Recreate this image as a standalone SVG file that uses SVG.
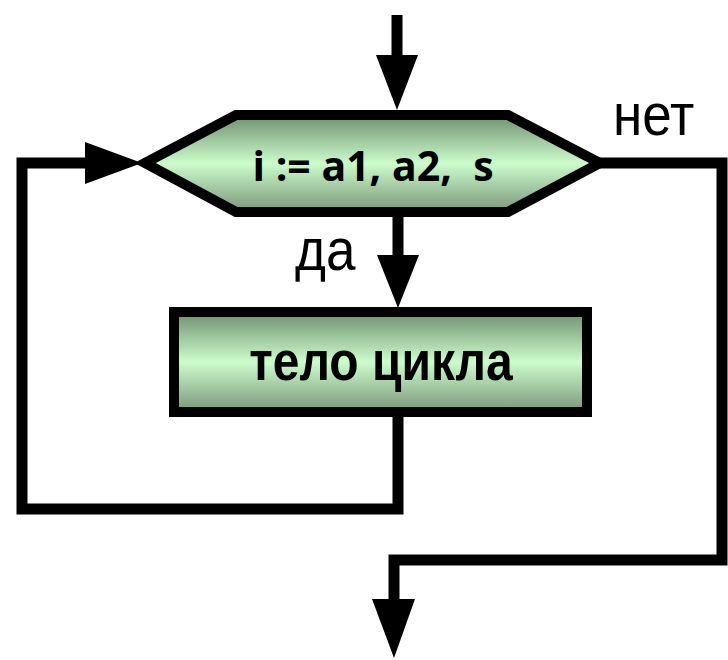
<svg xmlns="http://www.w3.org/2000/svg" width="728" height="660" viewBox="0 0 728 660">
<style>
.ln{fill:none;stroke:#000;stroke-width:11;stroke-linejoin:miter;stroke-linecap:butt}
.shape{stroke:#000;stroke-width:10;fill:url(#g)}
.lbl{font-family:"Liberation Sans",Arial,sans-serif;fill:#000}
.bold{font-weight:bold}
.head{fill:#000}
</style>
<defs>
<linearGradient id="g" x1="0" y1="0" x2="0" y2="1">
<stop offset="0" stop-color="#6f8f6f"/>
<stop offset="0.5" stop-color="#ccfccc"/>
<stop offset="1" stop-color="#7a967a"/>
</linearGradient>
</defs>
<g id="connectors">
<path class="ln" d="M397,15 V60"/>
<polygon class="head" points="376,55 418,55 397,110"/>
<path class="ln" d="M398,217 V258"/>
<polygon class="head" points="377,255 419,255 398,308"/>
<path class="ln" d="M398,417 V509 H22 V163 H90"/>
<polygon class="head" points="85,142 85,184 142,163"/>
<path class="ln" d="M600,163 H722 V560 H394 V602"/>
<polygon class="head" points="372,599 415,599 394,658"/>
</g>
<g id="cond">
<polygon class="shape" points="145,163 236,115 508,115 600,163 508,212 236,212"/>
<text class="bold" x="0" y="0" text-anchor="middle" xml:space="preserve" transform="translate(373,181) scale(1,1.02)" style="font-family:'Open Sans','Noto Sans',sans-serif;font-size:41px;white-space:pre">i := a1, a2,  s</text>
</g>
<g id="body">
<rect class="shape" x="174" y="312" width="413" height="100"/>
<text class="lbl bold" x="0" y="0" text-anchor="middle" transform="translate(381,380) scale(1,1.15)" style="font-size:48px">тело цикла</text>
</g>
<g id="label-net">
<text class="lbl" x="0" y="0" transform="translate(613,135) scale(1,1.1)" style="font-size:53px">нет</text>
</g>
<g id="label-da">
<text class="lbl" x="0" y="0" transform="translate(295,270) scale(1,1.1)" style="font-size:53px">да</text>
</g>
</svg>
